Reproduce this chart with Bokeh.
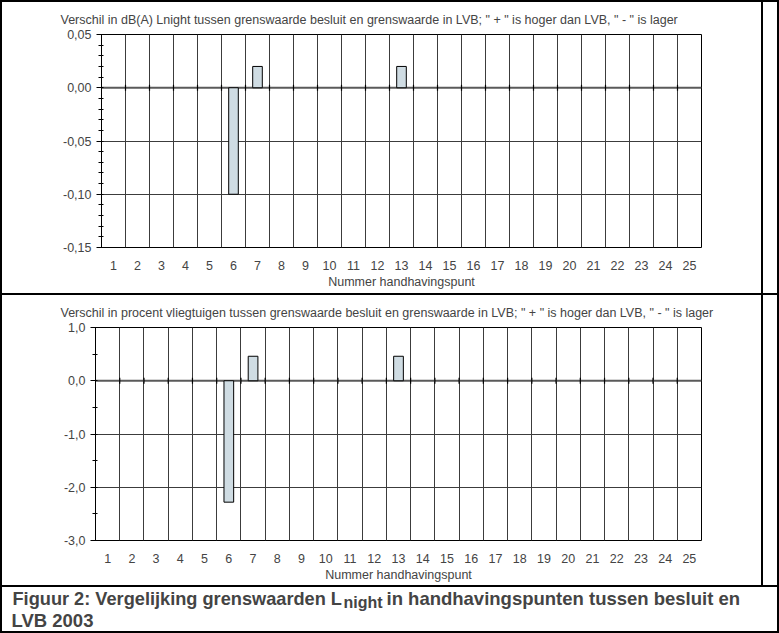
from bokeh.plotting import figure
from bokeh.layouts import column
from bokeh.models import (Range1d, FixedTicker, CustomJSTickFormatter, Title, Label,
                          Span, ColumnDataSource)
from bokeh.embed import file_html
from bokeh.resources import INLINE
import numpy as np

# ---------------- data ----------------
punten = [1, 2, 3, 4, 5, 6, 7, 8, 9, 10, 11, 12, 13, 14, 15, 16, 17, 18, 19, 20, 21, 22, 23, 24, 25]
verschil_db = [0, 0, 0, 0, 0, -0.10, 0.02, 0, 0, 0, 0, 0, 0.02, 0, 0, 0, 0, 0, 0, 0, 0, 0, 0, 0, 0]
verschil_pct = [0, 0, 0, 0, 0, -2.28, 0.46, 0, 0, 0, 0, 0, 0.46, 0, 0, 0, 0, 0, 0, 0, 0, 0, 0, 0, 0]
db_ticks = [-0.15, -0.10, -0.05, 0.00, 0.05]
pct_ticks = [-3.0, -2.0, -1.0, 0.0, 1.0]
titel_db = 'Verschil in dB(A) Lnight tussen grenswaarde besluit en grenswaarde in LVB; " + " is hoger dan LVB, " - " is lager'
titel_pct = 'Verschil in procent vliegtuigen tussen grenswaarde besluit en grenswaarde in LVB; " + " is hoger dan LVB, " - " is lager'
x_titel = "Nummer handhavingspunt"
caption_1 = "Figuur 2: Vergelijking grenswaarden L"
caption_sub = "night"
caption_2 = " in handhavingspunten tussen besluit en"
caption_3 = "LVB 2003"

FONT = "Liberation Sans"
W = 779


def frame_lines(lines):
    """CSS background lines (x, y, w, h) drawn behind a transparent canvas."""
    def px(v):
        return v if isinstance(v, str) else f"{v}px"
    return {
        "background-color": "white",
        "background-image": ", ".join(["linear-gradient(#000, #000)"] * len(lines)),
        "background-size": ", ".join(f"{px(w)} {px(h)}" for _, _, w, h in lines),
        "background-position": ", ".join(f"{px(x)} {px(y)}" for x, y, _, _ in lines),
        "background-repeat": "no-repeat",
    }


def chart(values, ticks, minor_step, decimals, title, height, fl, ft, fb, title_off, standoff):
    p = figure(width=W, height=height, x_range=Range1d(0.5, 25.5),
               y_range=Range1d(ticks[0], ticks[-1]), output_backend="svg",
               toolbar_location=None, min_border_left=fl, min_border_right=78,
               min_border_top=ft, min_border_bottom=fb, frame_align=False)
    p.title = Title(text=title, align="left", offset=title_off, text_font=FONT,
                    text_font_size="12.5px", text_font_style="normal", standoff=standoff)
    p.outline_line_color = "black"
    p.outline_line_width = 1
    p.background_fill_color = "white"
    p.border_fill_color = None

    # x axis (category numbers)
    xa = p.xaxis[0]
    xa.ticker = FixedTicker(ticks=punten)
    xa.major_tick_line_color = None
    xa.minor_tick_line_color = None
    xa.major_tick_out = 0
    xa.major_tick_in = 0
    xa.minor_tick_out = 0
    xa.axis_line_color = None
    xa.major_label_standoff = 13
    xa.major_label_text_font = FONT
    xa.major_label_text_font_size = "12.5px"
    xa.axis_label = x_titel
    xa.axis_label_text_font = FONT
    xa.axis_label_text_font_size = "12.5px"
    xa.axis_label_text_font_style = "normal"
    xa.axis_label_standoff = 2

    # y axis
    ya = p.yaxis[0]
    minor = [round(v, 4) for v in np.arange(ticks[0], ticks[-1] + 1e-9, minor_step)]
    ya.ticker = FixedTicker(ticks=ticks, minor_ticks=minor)
    ya.formatter = CustomJSTickFormatter(
        code="return tick.toFixed(%d).replace('.', ',');" % decimals)
    ya.axis_line_color = "black"
    ya.major_tick_line_color = "black"
    ya.minor_tick_line_color = "black"
    ya.major_tick_in = 0
    ya.major_tick_out = 5
    ya.minor_tick_in = 2
    ya.minor_tick_out = 3
    ya.major_label_standoff = 5
    ya.major_label_text_font = FONT
    ya.major_label_text_font_size = "12.5px"

    # grids: vertical lines between categories
    bounds = [v + 0.5 for v in punten[:-1]]
    p.xgrid.ticker = FixedTicker(ticks=bounds)
    p.xgrid.grid_line_color = "#3c3c3c"
    p.xgrid.grid_line_width = 1
    p.ygrid.ticker = FixedTicker(ticks=ticks)
    p.ygrid.grid_line_color = "#3c3c3c"
    p.ygrid.grid_line_width = 1

    p.add_layout(Span(location=0, dimension="width", line_color="#5a5a5a",
                      line_width=2, level="underlay"))
    p.scatter(x=bounds, y=[0] * len(bounds), marker="dash", angle=np.pi / 2,
              size=6, line_color="black", line_width=1.2)

    xs = [x for x, v in zip(punten, values) if v != 0]
    vs = [v for v in values if v != 0]
    src = ColumnDataSource(dict(x=xs, top=vs))
    p.vbar(x="x", top="top", bottom=0, width=0.4, source=src,
           fill_color="#cfdce3", line_color="black", line_width=1)
    return p


p1 = chart(verschil_db, db_ticks, 0.01, 2, titel_db, 295, 101, 34, 48, -41, 16)
p1.styles = frame_lines([(0, 0, 2, 295), (0, 0, 779, 2), (777, 0, 2, 295),
                         (761, 0, 2, 295), (0, 293, 779, 2)])

p2 = chart(verschil_pct, pct_ticks, 0.5, 1, titel_pct, 290, 95, 31, 45, -35, 16)
p2.styles = frame_lines([(0, 0, 2, 290), (777, 0, 2, 290), (761, 0, 2, 290)])

# caption
p3 = figure(width=W, height=48, x_range=Range1d(0, W), y_range=Range1d(48, 0),
            output_backend="svg", toolbar_location=None,
            min_border_left=0, min_border_right=0, min_border_top=0, min_border_bottom=0,
            x_axis_type=None, y_axis_type=None, frame_align=False)
p3.title = None
p3.outline_line_color = None
p3.border_fill_color = None
p3.background_fill_color = None
p3.xgrid.visible = False
p3.ygrid.visible = False
p3.styles = frame_lines([(0, 0, 779, 2), (0, 0, 2, "100%"), ("100%", 0, 2, "100%"),
                         (0, "100%", 779, 2)])
p3.add_layout(Label(x=12, y=13, text=caption_1, text_font=FONT, text_font_size="18.2px",
                    text_font_style="bold", text_baseline="middle"))
p3.add_layout(Label(x=343, y=17, text=caption_sub, text_font=FONT, text_font_size="16px",
                    text_font_style="bold", text_baseline="middle"))
p3.add_layout(Label(x=386, y=13, text=caption_2, text_font=FONT, text_font_size="18.5px",
                    text_font_style="bold", text_baseline="middle"))
p3.add_layout(Label(x=11, y=35, text=caption_3, text_font=FONT, text_font_size="18.5px",
                    text_font_style="bold", text_baseline="middle"))

layout = column(p1, p2, p3, spacing=0)
open("out.html", "w").write(file_html(layout, INLINE))
